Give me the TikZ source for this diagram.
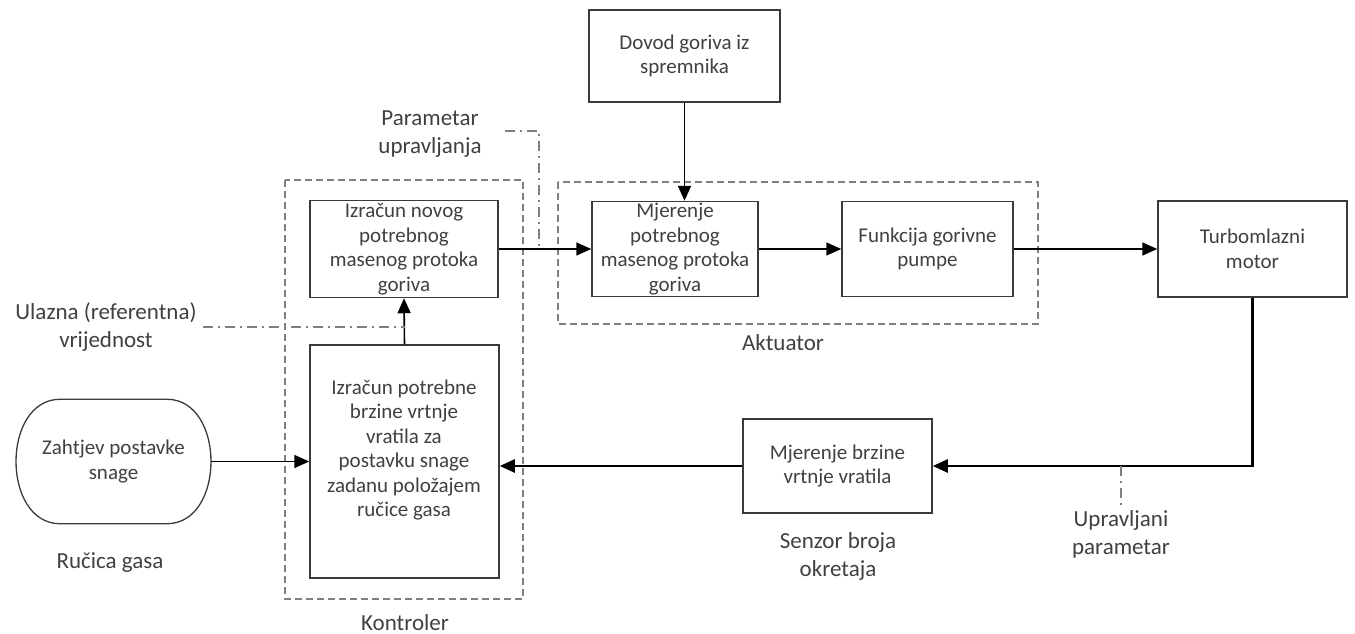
\documentclass[tikz,border=0pt]{standalone}
\usepackage{fontspec}
\setmainfont{Carlito}
\usepackage{tikz}
\usetikzlibrary{arrows.meta}

\definecolor{tekst}{HTML}{404040}
\definecolor{rub}{HTML}{3A3A3A}
\definecolor{siva}{HTML}{808080}

\tikzset{
	blok/.style={draw=rub, line width=1.5pt, align=center, text=tekst, inner sep=0pt, font=\fontsize{21}{24.5}\selectfont},
	opis/.style={align=center, text=tekst, inner sep=1pt, font=\fontsize{23}{28}\selectfont},
	grupa/.style={draw=siva, line width=2pt, dash pattern=on 7pt off 4pt},
	crtatocka/.style={draw=siva, line width=1.5pt, dash pattern=on 10pt off 5pt on 2pt off 5pt},
	tok/.style={->, line width=1.6pt},
}

\begin{document}
\begin{tikzpicture}[x=1pt, y=-1pt, >={Triangle[length=15pt,width=13pt]}]
				\useasboundingbox (0,0) rectangle (1355,634);
				\begin{scope}
					\node[blok, minimum width=191pt, minimum height=92pt] (dovod) at (684.5,56) {Dovod goriva iz\\spremnika};
					\node[blok, minimum width=188pt, minimum height=97pt] (novog) at (404,249) {Izračun novog\\potrebnog\\masenog protoka\\goriva};
					\node[blok, minimum width=189pt, minimum height=233pt] (potr) at (404.5,461.5) {};
					\node[blok, draw=none] (potrtekst) at (404,450) {Izračun potrebne\\brzine vrtnje\\vratila za\\postavku snage\\zadanu položajem\\ručice gasa};
					\node[blok, minimum width=166pt, minimum height=95pt] (mjer) at (675,249) {Mjerenje\\potrebnog\\masenog protoka\\goriva};
					\node[blok, minimum width=171pt, minimum height=95pt] (funk) at (927.5,249) {Funkcija gorivne\\pumpe};
					\node[blok, minimum width=189pt, minimum height=96pt] (turbo) at (1252.5,249) {Turbomlazni\\motor};
					\node[blok, minimum width=189pt, minimum height=94pt] (brz) at (837.5,466) {Mjerenje brzine\\vrtnje vratila};

					% rucica gasa
					\node[blok, draw=none, minimum width=193pt, minimum height=123pt] (zaht) at (113.5,461.5) {Zahtjev postavke\\snage};
					\draw[draw=rub, line width=1.3pt] ([xshift=44pt]zaht.north west) -- ([xshift=-44pt]zaht.north east)
						.. controls ([xshift=15pt]zaht.north east) and ([xshift=15pt]zaht.south east) .. ([xshift=-44pt]zaht.south east)
						-- ([xshift=44pt]zaht.south west)
						.. controls ([xshift=-15pt]zaht.south west) and ([xshift=-15pt]zaht.north west) .. ([xshift=44pt]zaht.north west) -- cycle;

					\draw[grupa] (285,180) rectangle (523,599); % kontroler
					\draw[grupa] (558,182) rectangle (1038,324); % aktuator

					\node[opis] (rucica) at (110,563) {Ručica gasa};
					\node[opis] (kontroler) at (405,623) {Kontroler};
					\node[opis] (aktuator) at (783,343) {Aktuator};
					\node[opis] (senzor) at (838,556) {Senzor broja\\okretaja};
					\node[opis] (upravljani) at (1121,534) {Upravljani\\parametar};
					\node[opis] (param) at (430,134) {Parametar\\upravljanja};
					\node[opis] (ulazna) at (106,327) {Ulazna (referentna)\\vrijednost};

					\draw[tok] (zaht.east) -- (potr.west); % od rucice do kontrolera
					\draw[tok] (potr.north) -- (novog.south);
					\draw[tok] (novog.east) -- (mjer.west); % od kontrolera do aktuatora
					\draw[tok] (dovod.south) -- (dovod.south |- mjer.north);
					\draw[tok] (mjer.east) -- (funk.west);
					\draw[tok] (funk.east) -- (turbo.west); % do motora
					\draw[tok, line width=2.5pt] (turbo.south) |- (brz.east); % povratna veza
					\draw[tok, line width=2.5pt] (brz.west) -- (brz.west -| potr.east);

					\coordinate (parampoc) at (505,131);
					\coordinate (paramkut) at (539,131);
					\draw[crtatocka] (parampoc) -- (paramkut) -- (paramkut |- novog.east);
					\draw[crtatocka] ([xshift=5pt]ulazna.east) -- (ulazna.east -| potr.north);
					\draw[crtatocka] (upravljani.north |- brz.east) -- (upravljani.north);
				\end{scope}
			\end{tikzpicture}
\end{document}
